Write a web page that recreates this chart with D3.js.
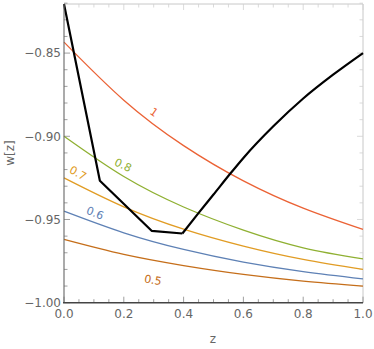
<!DOCTYPE html>
<html>
<head>
<meta charset="utf-8">
<script src="https://cdn.jsdelivr.net/npm/d3@7"></script>
<style>
body { margin: 0; background: #fff; }
text { font-family: "DejaVu Sans", sans-serif; }
</style>
</head>
<body>
<svg id="chart" width="374" height="349"></svg>
<script>
// values
const z_vals = [0, 0.2, 0.4, 0.6, 0.8, 1.0];
const w_1 = [-0.8434, -0.8783, -0.9056, -0.9268, -0.9432, -0.9560];
const w_08 = [-0.9000, -0.9242, -0.9425, -0.9564, -0.9670, -0.9737];
const w_07 = [-0.9250, -0.9424, -0.9558, -0.9660, -0.9740, -0.9800];
const w_06 = [-0.9450, -0.9580, -0.9680, -0.9756, -0.9813, -0.9857];
const w_05 = [-0.9620, -0.9710, -0.9777, -0.9830, -0.9870, -0.9900];
// black: straight pieces, then a smooth rise
const black_z = [0, 0.12, 0.293, 0.396];
const black_w = [-0.8205, -0.9267, -0.9568, -0.9584];
const rise_z = [0.396, 0.449, 0.5, 0.555, 0.6, 0.7, 0.8, 0.9, 1.0];
const rise_w = [-0.9584, -0.9463, -0.9350, -0.9227, -0.9130, -0.8940, -0.8773, -0.8630, -0.8500];
const x_ticks = [0, 0.2, 0.4, 0.6, 0.8, 1.0];
const y_ticks = [-1.00, -0.95, -0.90, -0.85];
const curve_labels = ["1", "0.8", "0.7", "0.6", "0.5"];
const curve_colors = ["#EB6235", "#8FB032", "#E19C24", "#5E81B5", "#C56E1A"];

const svg = d3.select("#chart");
const x = d3.scaleLinear().domain([0, 1]).range([64, 363]);
const y = d3.scaleLinear().domain([-1, -0.8205]).range([302.7, 4]);

const series = [w_1, w_08, w_07, w_06, w_05];
const line = d3.line().x(d => x(d[0])).y(d => y(d[1])).curve(d3.curveNatural);

// frame: light top/right
svg.append("line").attr("x1", x(0)).attr("x2", x(1)).attr("y1", y.range()[1]).attr("y2", y.range()[1])
	.style("stroke", "#c8c8c8");
svg.append("line").attr("x1", x(1)).attr("x2", x(1)).attr("y1", y.range()[0]).attr("y2", y.range()[1])
	.style("stroke", "#c8c8c8");

// ticks (minor + major) on all four sides
const x_minor = d3.range(0, 1.0001, 0.05);
const y_minor = d3.range(-1, -0.8199, 0.01);
x_minor.forEach(v => {
	let major = Math.abs(v * 5 - Math.round(v * 5)) < 1e-6;
	let len = major ? 6 : 3.5;
	svg.append("line").attr("x1", x(v)).attr("x2", x(v)).attr("y1", y(-1)).attr("y2", y(-1) - len)
		.style("stroke", "#888").style("stroke-width", 0.8);
	svg.append("line").attr("x1", x(v)).attr("x2", x(v)).attr("y1", y.range()[1]).attr("y2", y.range()[1] + len)
		.style("stroke", "#d0d0d0").style("stroke-width", 0.8);
});
y_minor.forEach(v => {
	let major = Math.abs(v * 20 - Math.round(v * 20)) < 1e-6;
	let len = major ? 6 : 3.5;
	svg.append("line").attr("x1", x(0)).attr("x2", x(0) + len).attr("y1", y(v)).attr("y2", y(v))
		.style("stroke", "#888").style("stroke-width", 0.8);
	svg.append("line").attr("x1", x(1)).attr("x2", x(1) - len).attr("y1", y(v)).attr("y2", y(v))
		.style("stroke", "#d0d0d0").style("stroke-width", 0.8);
});

// tick labels
svg.selectAll(".xt").data(x_ticks).enter().append("text")
	.attr("x", d => x(d)).attr("y", 318)
	.attr("text-anchor", "middle").style("font-size", "12px").style("fill", "#666")
	.text(d => d.toFixed(1));
svg.selectAll(".yt").data(y_ticks).enter().append("text")
	.attr("x", 61).attr("y", d => y(d) + 4.3)
	.attr("text-anchor", "end").style("font-size", "12px").style("fill", "#666")
	.text(d => d.toFixed(2).replace("-", "\u2212"));

// axis titles
svg.append("text").attr("x", 213).attr("y", 343).attr("text-anchor", "middle")
	.style("font-size", "12px").style("fill", "#666").text("z");
svg.append("text").attr("transform", "translate(14,153) rotate(-90)").attr("text-anchor", "middle")
	.style("font-size", "12px").style("fill", "#666").text("w[z]");

// curves
series.forEach((s, i) => {
	svg.append("path").datum(z_vals.map((zv, j) => [zv, s[j]]))
		.attr("d", line)
		.style("fill", "none").style("stroke", curve_colors[i]).style("stroke-width", 1.3);
});

// black line
svg.append("path").datum(black_z.map((zv, j) => [zv, black_w[j]]))
	.attr("d", d3.line().x(d => x(d[0])).y(d => y(d[1])).curve(d3.curveLinear))
	.style("fill", "none").style("stroke", "#000").style("stroke-width", 2.2)
	.style("stroke-linejoin", "round");
svg.append("path").datum(rise_z.map((zv, j) => [zv, rise_w[j]]))
	.attr("d", d3.line().x(d => x(d[0])).y(d => y(d[1])).curve(d3.curveMonotoneX))
	.style("fill", "none").style("stroke", "#000").style("stroke-width", 2.2)
	.style("stroke-linejoin", "round");

// left / bottom frame (darker)
svg.append("line").attr("x1", x(0)).attr("x2", x(0)).attr("y1", y.range()[0]).attr("y2", y.range()[1])
	.style("stroke", "#666").style("stroke-width", 1.1);
svg.append("line").attr("x1", x(0) - 1).attr("x2", x(1)).attr("y1", y(-1)).attr("y2", y(-1))
	.style("stroke", "#444").style("stroke-width", 1.4);

// curve labels
const label_pos = [[154, 112, 35], [123, 165, 26], [78, 173, 30], [95, 213, 22], [153, 280, 10]];
curve_labels.forEach((t, i) => {
	let p = label_pos[i];
	svg.append("text")
		.attr("transform", `translate(${p[0]},${p[1]}) rotate(${p[2]})`)
		.attr("text-anchor", "middle").attr("dy", "0.35em")
		.style("font-size", "11px").style("fill", curve_colors[i])
		.text(t);
});
</script>
</body>
</html>
